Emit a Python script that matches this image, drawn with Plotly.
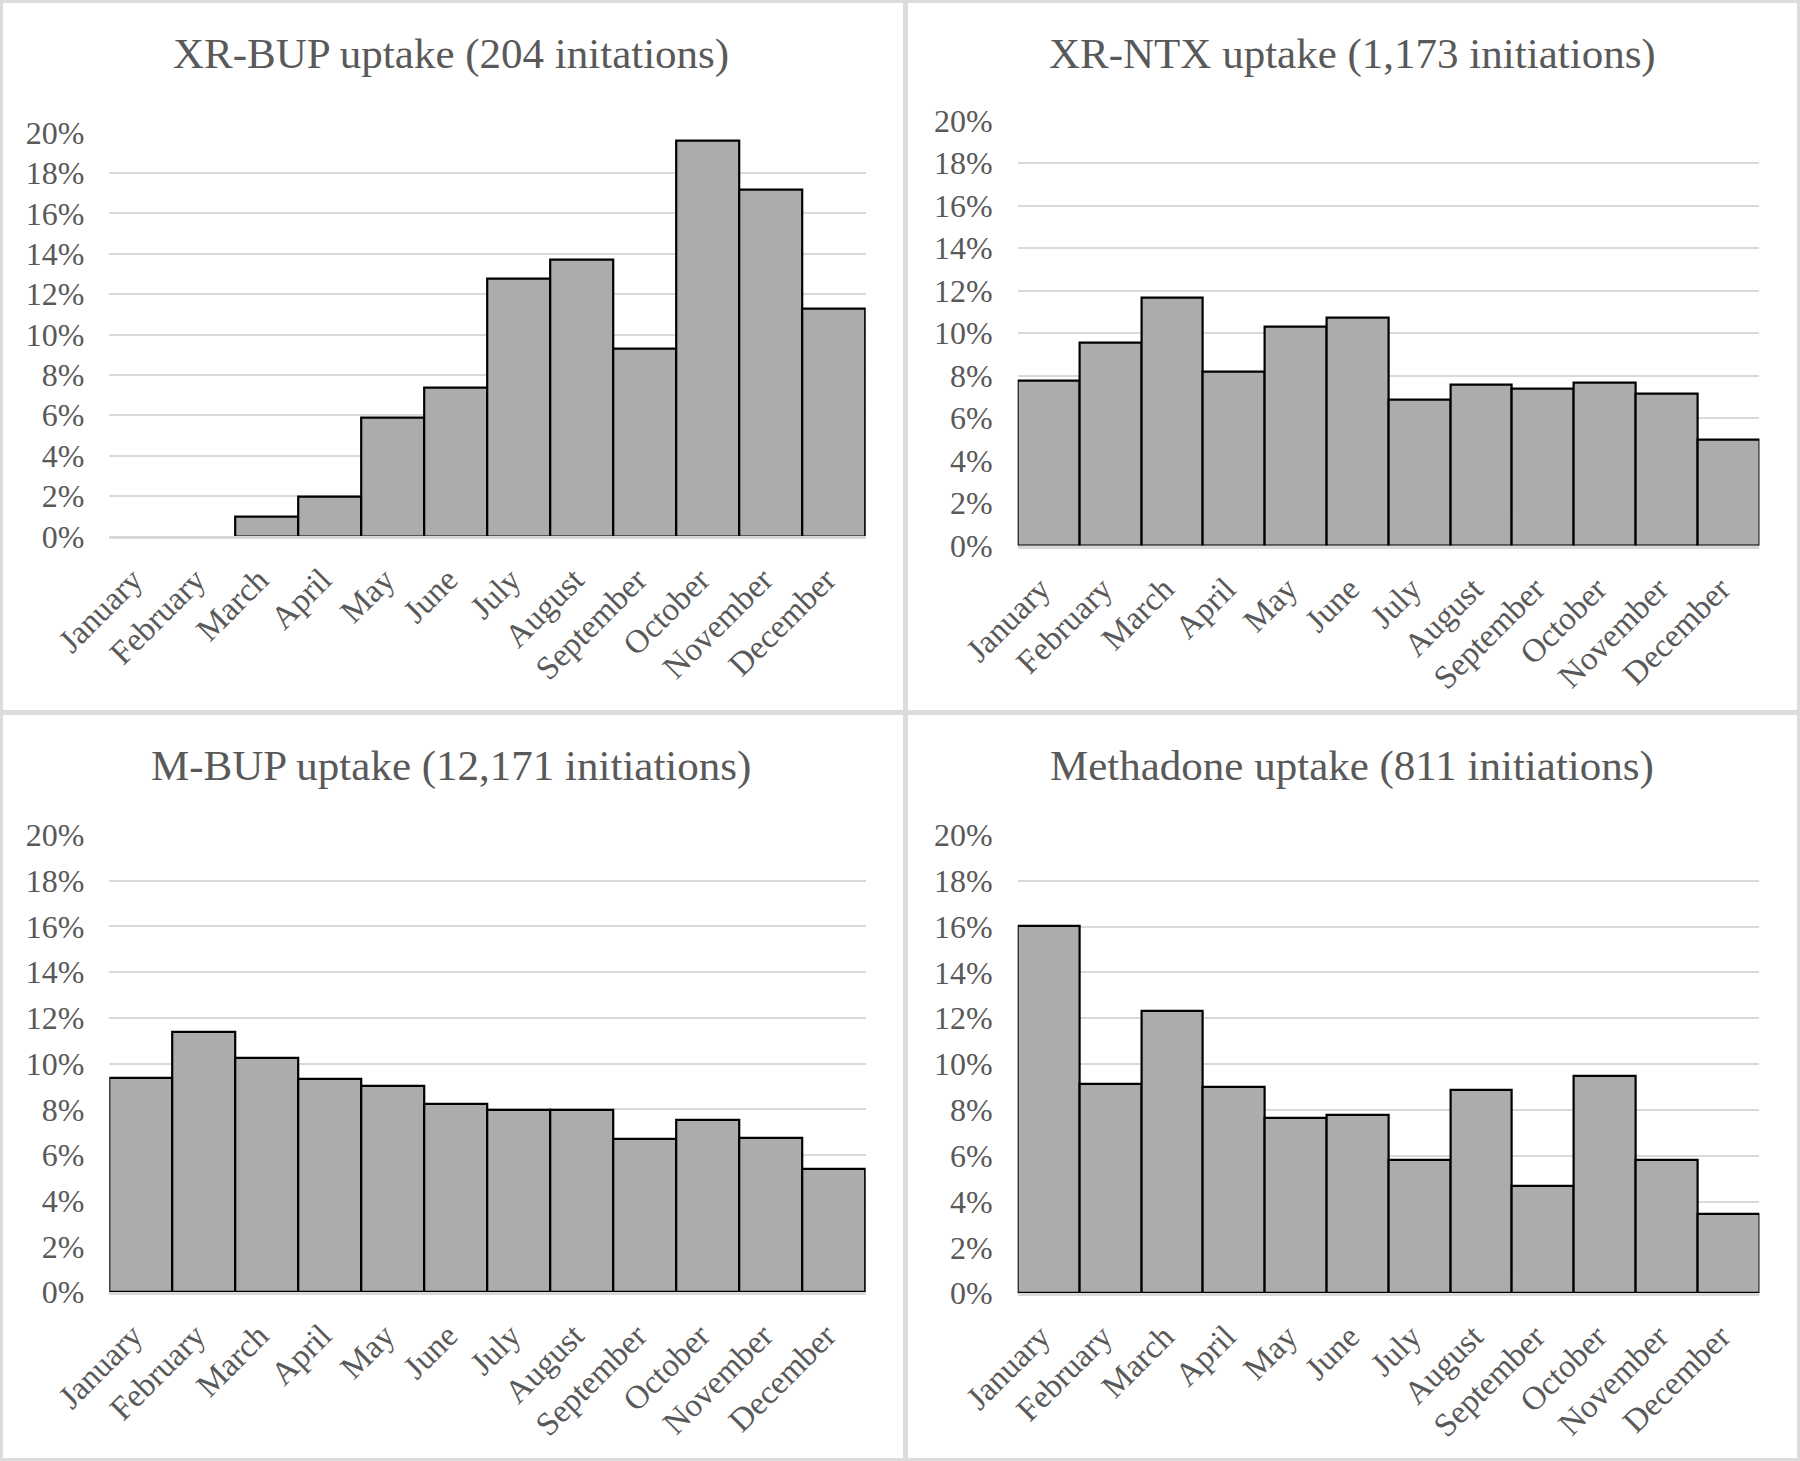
import plotly.graph_objects as go

months = ["January", "February", "March", "April", "May", "June", "July",
          "August", "September", "October", "November", "December"]

titles = ["XR-BUP uptake (204 initations)",
          "XR-NTX uptake (1,173 initiations)",
          "M-BUP uptake (12,171 initiations)",
          "Methadone uptake (811 initiations)"]

xr_bup = [0, 0, 0.98, 1.96, 5.88, 7.35, 12.75, 13.73, 9.31, 19.61, 17.16, 11.27]
xr_ntx = [7.74, 9.54, 11.68, 8.17, 10.29, 10.72, 6.88, 7.57, 7.39, 7.65, 7.16, 4.99]
m_bup = [9.38, 11.40, 10.25, 9.32, 9.02, 8.24, 7.96, 7.96, 6.69, 7.52, 6.75, 5.39]
methadone = [16.03, 9.12, 12.33, 9.00, 7.64, 7.77, 5.80, 8.88, 4.69, 9.49, 5.80, 3.45]

y_ticks = list(range(0, 21, 2))

W, H = 1800, 1461
def fx(x):
    return x / W
def fy(y):
    return 1 - y / H

# plot areas in pixels: (x0, x1, ytop, ybottom)
areas = [
    (109.3, 865.7, 132.7, 536.3),
    (1017.7, 1759.4, 120.8, 545.5),
    (109.3, 865.7, 835.0, 1292.2),
    (1017.7, 1759.4, 835.0, 1293.2),
]
title_pos = [(451, 54), (1352, 54), (451, 766), (1352, 766)]

FONT = "Liberation Serif"
TXT = "#595959"
GRID = "#d9d9d9"

fig = go.Figure()
series = [xr_bup, xr_ntx, m_bup, methadone]
layout = {}
annotations = []
for i, (vals, area) in enumerate(zip(series, areas)):
    n = "" if i == 0 else str(i + 1)
    # no outline on empty (zero-height) bars
    outline = [0 if v == 0 else 2.2 for v in vals]
    fig.add_trace(go.Bar(
        x=months, y=vals, xaxis="x" + n, yaxis="y" + n,
        marker=dict(color="#aeabab", line=dict(color="black", width=outline)),
        showlegend=False, hoverinfo="x+y"))
    x0, x1, yt, yb = area
    layout["xaxis" + n] = dict(
        domain=[fx(x0), fx(x1)], anchor="y" + n, automargin=False,
        showgrid=False, zeroline=False, showline=True, linecolor=GRID,
        linewidth=2.8, layer="above traces", ticks="",
        tickangle=-45, ticklabelstandoff=8, ticklabelshift=-8,
        tickfont=dict(family=FONT, size=33, color=TXT),
        categoryorder="array", categoryarray=months, fixedrange=True)
    layout["yaxis" + n] = dict(
        domain=[fy(yb), fy(yt)], anchor="x" + n, automargin=False,
        range=[0, 20], tickvals=y_ticks,
        ticktext=[f"{v}%" for v in y_ticks],
        showgrid=True, gridcolor=GRID, gridwidth=2, zeroline=False,
        showline=False, ticks="", ticklabelstandoff=24,
        tickfont=dict(family=FONT, size=32, color=TXT), fixedrange=True)
    tx, ty = title_pos[i]
    annotations.append(dict(
        text=titles[i], x=fx(tx), y=fy(ty), xref="paper", yref="paper",
        xanchor="center", yanchor="middle", showarrow=False,
        font=dict(family=FONT, size=43, color=TXT)))

shapes = [
    dict(type="rect", xref="paper", yref="paper", x0=fx(1.5), x1=fx(1798.5),
         y0=fy(1459.5), y1=fy(1.5), line=dict(color="#dcdcdc", width=3)),
    dict(type="line", xref="paper", yref="paper", x0=fx(905.5), x1=fx(905.5),
         y0=0, y1=1, line=dict(color="#dcdcdc", width=5)),
    dict(type="line", xref="paper", yref="paper", x0=0, x1=1,
         y0=fy(712.5), y1=fy(712.5), line=dict(color="#dcdcdc", width=5)),
]

fig.update_layout(
    width=W, height=H, margin=dict(l=0, r=0, t=0, b=0, pad=0),
    autosize=False,
    paper_bgcolor="white", plot_bgcolor="white", bargap=0,
    annotations=annotations, shapes=shapes, **layout)

fig.write_html(
    "out.html",
    config={"displayModeBar": False},
    post_script="document.body.style.margin='0';"
                "document.body.style.overflow='hidden';")
